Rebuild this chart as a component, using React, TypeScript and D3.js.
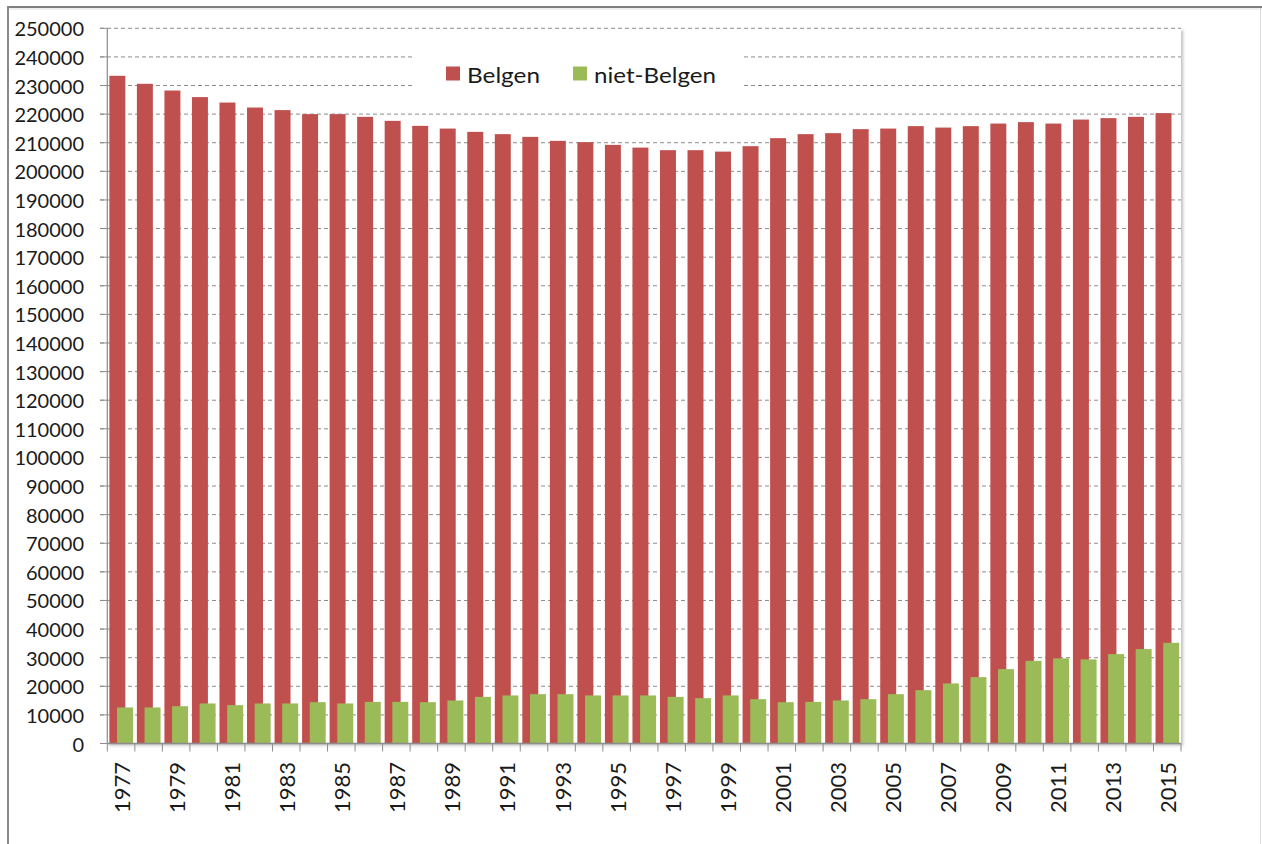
import React from "react";
import * as d3 from "d3";

const years: string[] = d3.range(1977, 2016).map((y) => String(y));
const belgen: number[] = [
  233400, 230600, 228250, 225950, 224050, 222300, 221400, 220000, 220000, 219050,
  217650, 215900, 214950, 213800, 213000, 212050, 210650, 210200, 209250, 208300,
  207400, 207400, 206900, 208800, 211600, 213000, 213350, 214750, 214950, 215800,
  215300, 215800, 216700, 217200, 216700, 218100, 218600, 219050, 220350,
];
const nietBelgen: number[] = [
  12600, 12600, 13050, 14000, 13400, 14000, 14000, 14450, 14000, 14550,
  14550, 14450, 15050, 16300, 16800, 17250, 17250, 16800, 16800, 16800,
  16300, 15850, 16800, 15500, 14450, 14550, 15050, 15500, 17250, 18650,
  21000, 23200, 26000, 28900, 29750, 29400, 31250, 33000, 35200,
];
const yTicks: number[] = d3.range(0, 250001, 10000);
const seriesNames: string[] = ["Belgen", "niet-Belgen"];
const seriesColors: string[] = ["#C0504D", "#9BBB59"];

const W = 1262;
const H = 844;
const left = 107.3;
const right = 1181;
const top = 28.3;
const bottom = 743.5;
const FONT = "Lato, 'Open Sans', sans-serif";

export default function App() {
  const x = d3.scaleBand<string>().domain(years).range([left, right]).padding(0);
  const y = d3.scaleLinear().domain([0, 250000]).range([bottom, top]);
  const bw = x.bandwidth();
  const barW = bw * 0.58;
  const offRed = bw * 0.075;
  const offGreen = offRed + barW * 0.48;
  const labelYears = years.filter((_, i) => i % 2 === 0);

  return (
    <svg
      width={W}
      height={H}
      style={{ position: "absolute", left: 0, top: 0, background: "#fff" }}
      xmlns="http://www.w3.org/2000/svg"
    >
      <defs>
        <filter id="shadow" x="-5%" y="-5%" width="110%" height="110%">
          <feDropShadow dx="2" dy="2" stdDeviation="1.5" floodColor="#000" floodOpacity="0.25" />
        </filter>
      </defs>
      {/* outer frame */}
      <line x1={8} y1={7} x2={W} y2={7} stroke="#7f7f7f" strokeWidth={2} />
      <line x1={8} y1={9} x2={W} y2={9} stroke="#e0e0e0" strokeWidth={1} />
      <line x1={8} y1={6} x2={8} y2={H} stroke="#8a8a8a" strokeWidth={2} />
      <line x1={1260.5} y1={8} x2={1260.5} y2={H} stroke="#dcdcdc" strokeWidth={1} />

      {/* plot area */}
      <rect x={left} y={top} width={right - left} height={bottom - top} fill="#fff" filter="url(#shadow)" />

      {/* gridlines */}
      {yTicks.map((t) =>
        t === 0 ? null : (
          <line
            key={"g" + t}
            x1={100}
            x2={right}
            y1={y(t)}
            y2={y(t)}
            stroke="#8c8c8c"
            strokeWidth={1}
            strokeDasharray="4,3"
          />
        )
      )}
      {/* y tick marks */}
      {yTicks.map((t) => (
        <line key={"yt" + t} x1={100} x2={left} y1={y(t)} y2={y(t)} stroke="#8c8c8c" strokeWidth={1} />
      ))}

      {/* legend background */}
      <rect x={413} y={40} width={330} height={60} fill="#fff" />

      {/* bars */}
      {years.map((yr, i) => (
        <rect
          key={"b" + yr}
          x={(x(yr) as number) + offRed}
          y={y(belgen[i])}
          width={barW}
          height={y(0) - y(belgen[i])}
          fill={seriesColors[0]}
        />
      ))}
      {years.map((yr, i) => (
        <rect
          key={"n" + yr}
          x={(x(yr) as number) + offGreen}
          y={y(nietBelgen[i])}
          width={barW}
          height={y(0) - y(nietBelgen[i])}
          fill={seriesColors[1]}
        />
      ))}

      {/* axes */}
      <line x1={left} x2={left} y1={top} y2={bottom} stroke="#8c8c8c" strokeWidth={1.2} />
      <line x1={left} x2={right} y1={bottom} y2={bottom} stroke="#8c8c8c" strokeWidth={1.5} />
      {years.concat(["end"]).map((yr, i) => {
        const xx = left + i * bw;
        return <line key={"xt" + i} x1={xx} x2={xx} y1={bottom} y2={bottom + 8} stroke="#8c8c8c" strokeWidth={1} />;
      })}

      {/* y labels */}
      {yTicks.map((t) => (
        <text
          key={"yl" + t}
          x={84}
          y={y(t)}
          textAnchor="end"
          dominantBaseline="central"
          fontFamily={FONT}
          fontSize={20}
          fill="#1a1a1a"
        >
          {String(t)}
        </text>
      ))}

      {/* x labels */}
      {labelYears.map((yr) => {
        const cx = (x(yr) as number) + bw / 2 + 0.5;
        const yy = 762;
        return (
          <text
            key={"xl" + yr}
            transform={`translate(${cx},${yy}) rotate(-90)`}
            textAnchor="end"
            dominantBaseline="central"
            fontFamily={FONT}
            fontSize={22}
            fill="#1a1a1a"
          >
            {yr}
          </text>
        );
      })}

      {/* legend */}
      <rect x={446} y={66.5} width={14} height={14} fill={seriesColors[0]} />
      <text x={467} y={74} dominantBaseline="central" fontFamily={FONT} fontSize={21} fill="#1a1a1a" textLength={73} lengthAdjust="spacingAndGlyphs">
        {seriesNames[0]}
      </text>
      <rect x={573} y={66.5} width={14} height={14} fill={seriesColors[1]} />
      <text x={594} y={74} dominantBaseline="central" fontFamily={FONT} fontSize={21} fill="#1a1a1a" textLength={122} lengthAdjust="spacingAndGlyphs">
        {seriesNames[1]}
      </text>
    </svg>
  );
}
